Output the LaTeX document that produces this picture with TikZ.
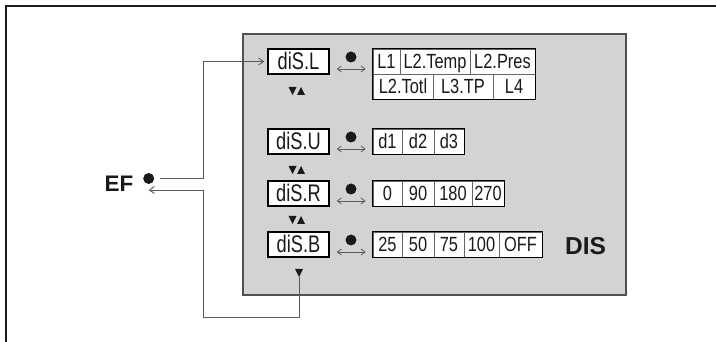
\documentclass[tikz,border=0pt]{standalone}
\usepackage{fontspec}
\setmainfont{Liberation Sans}
\newfontfamily\condf[FakeStretch=0.76]{Liberation Sans}
\newfontfamily\valf[FakeStretch=0.8]{Liberation Sans}
\usetikzlibrary{arrows.meta}
\definecolor{panelfill}{RGB}{211,211,211}
\definecolor{panelline}{RGB}{80,80,80}
\definecolor{connline}{RGB}{90,90,90}
\definecolor{cellline}{RGB}{100,100,100}
\definecolor{ink}{RGB}{26,26,26}
\tikzset{
  frameline/.style={draw=ink, line width=2pt},
  panel/.style={draw=panelline, fill=panelfill, line width=1.2pt},
  lbl/.style={draw=black, line width=1.4pt, fill=white, inner sep=0pt,
    minimum width=61pt, minimum height=25pt, text=ink,
    font=\condf\fontsize{24}{24}\selectfont, text height=17pt, text depth=0pt},
  cell/.style={draw=cellline, line width=0.7pt, fill=white, inner sep=0pt,
    minimum height=25pt, text=ink,
    font=\valf\fontsize{20.5}{20.5}\selectfont, text height=14.7pt, text depth=0pt},
  cellbox/.style={draw=black, line width=1.4pt},
  dot/.style={circle, fill=ink, inner sep=0pt, minimum size=11pt},
  dbl/.style={draw=connline, line width=0.8pt, {Straight Barb[length=4pt,width=6pt]}-{Straight Barb[length=4pt,width=6pt]}},
  conn/.style={draw=connline, line width=0.9pt},
  connarrow/.style={conn, -{Straight Barb[length=5pt,width=7pt]}},
  bigtxt/.style={text=ink, inner sep=0pt, font=\bfseries\fontsize{22.5}{22.5}\selectfont},
  downtri/.pic={\fill[ink] (-4,-4) -- (4,-4) -- (0,4) -- cycle;},
  uptri/.pic={\fill[ink] (-4,4) -- (4,4) -- (0,-4) -- cycle;}
}
\begin{document}
\begin{tikzpicture}[x=1pt,y=-1pt]
\useasboundingbox (0,0) rectangle (716,342);
\fill[white] (0,0) rectangle (716,342);
% outer frame (open at right and bottom)
\draw[frameline] (6,342) -- (6,6.3) -- (716,6.3);
% grey panel
\draw[panel] (243,34) rectangle (626,295);

% label boxes
\node[lbl] (L) at (298.5,61.5) {diS.L};
\node[lbl] (U) at (298.5,141.5) {diS.U};
\node[lbl] (R) at (298.5,193.5) {diS.R};
\node[lbl] (B) at (298.5,244.5) {diS.B};

% value cells, row L
\node[cell, minimum width=27pt] (l1) at (386.5,61.5) {L1};
\node[cell, minimum width=70pt] (l2) at (435,61.5) {L2.Temp};
\node[cell, minimum width=65pt] (l3) at (502.5,61.5) {L2.Pres};
\node[cell, minimum width=60pt] (l4) at (403,86.5) {L2.Totl};
\node[cell, minimum width=60pt] (l5) at (463,86.5) {L3.TP};
\node[cell, minimum width=42pt] (l6) at (514,86.5) {L4};
\draw[cellbox] (l1.north west) rectangle (l6.south east);
% row U
\node[cell, minimum width=29pt] (u1) at (387.5,141.5) {d1};
\node[cell, minimum width=32pt] (u2) at (418,141.5) {d2};
\node[cell, minimum width=30pt] (u3) at (449,141.5) {d3};
\draw[cellbox] (u1.north west) rectangle (u3.south east);
% row R
\node[cell, minimum width=29pt] (r1) at (387.5,193.5) {0};
\node[cell, minimum width=32pt] (r2) at (418,193.5) {90};
\node[cell, minimum width=38pt] (r3) at (453,193.5) {180};
\node[cell, minimum width=32pt] (r4) at (488,193.5) {270};
\draw[cellbox] (r1.north west) rectangle (r4.south east);
% row B
\node[cell, minimum width=29pt] (b1) at (387.5,244.5) {25};
\node[cell, minimum width=32pt] (b2) at (418,244.5) {50};
\node[cell, minimum width=30pt] (b3) at (449,244.5) {75};
\node[cell, minimum width=35pt] (b4) at (481.5,244.5) {100};
\node[cell, minimum width=43pt] (b5) at (520.5,244.5) {OFF};
\draw[cellbox] (b1.north west) rectangle (b5.south east);

% bullets and double arrows
\foreach \n/\v in {L/l1,U/u1,R/r1,B/b1}{
  \node[dot] (dot\n) at ([shift={(52.5,-4.5)}]\n.center) {};
  \draw[dbl] ([shift={(7,7.5)}]\n.east) -- ([shift={(-7,7.5)}]\v.west |- \n.center);
}

% up/down triangles
\pic at (292.5,91) {downtri}; \pic at (301,91) {uptri};
\pic at (292.5,170) {downtri}; \pic at (301,170) {uptri};
\pic at (292.5,220) {downtri}; \pic at (301,220) {uptri};
\pic at (299,273) {downtri};

% labels
\node[bigtxt] (EF) at (119,184) {EF};
\node[dot] (EFdot) at (148.7,178.5) {};
\node[bigtxt, font=\bfseries\fontsize{24.5}{24.5}\selectfont] (DIS) at (585.5,246) {DIS};

% connectors
\coordinate (fwd) at (203,178.5);
\coordinate (ret) at (203,317);
\coordinate (tip) at (299,277);
\draw[connarrow] ([xshift=6pt]EFdot.east) -- (fwd) |- ([xshift=-3pt]L.west);
\draw[connarrow] (tip) -- (tip |- ret) -- (ret) |- ([yshift=-11.5pt]EFdot.center);
\end{tikzpicture}
\end{document}
